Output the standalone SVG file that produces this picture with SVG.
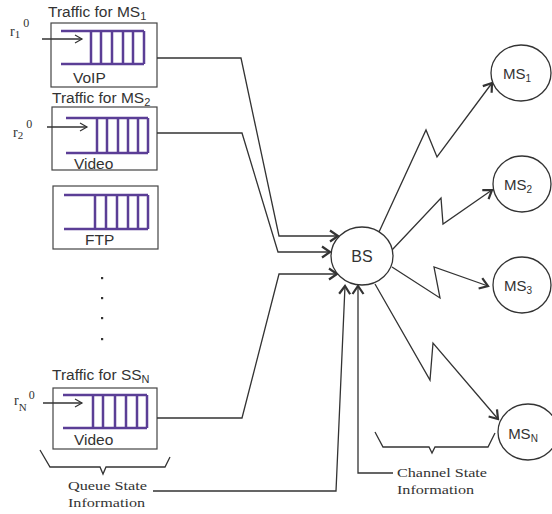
<svg xmlns="http://www.w3.org/2000/svg" width="552" height="514" viewBox="0 0 552 514">
<defs>
<style>
.box{fill:none;stroke:#444;stroke-width:1.2}
.q{fill:none;stroke:#5b3e96;stroke-width:2.5}
.ln{fill:none;stroke:#333;stroke-width:1.3}
.ar{fill:none;stroke:#333;stroke-width:1.3}
.node{fill:#fff;stroke:#333;stroke-width:1.3}
.sans{font-family:"Liberation Sans",Arial,sans-serif;fill:#333}
.serif{font-family:"Liberation Serif","Times New Roman",serif;fill:#333}
</style>
<marker id="chev" viewBox="-10 -7 12 14" markerWidth="12" markerHeight="14" refX="0" refY="0" orient="auto" markerUnits="userSpaceOnUse">
<path d="M-8,-5.5 L0,0 L-8,5.5" fill="none" stroke="#333" stroke-width="2.2"/>
</marker>
<marker id="thin" viewBox="-10 -6 12 12" markerWidth="12" markerHeight="12" refX="0" refY="0" orient="auto" markerUnits="userSpaceOnUse">
<path d="M-7,-4 L0,0 L-7,4" fill="none" stroke="#333" stroke-width="1.2"/>
</marker>
</defs>

<g id="queue1">
<text class="sans" x="48" y="17" font-size="15.5">Traffic for MS<tspan font-size="11" dy="3">1</tspan></text>
<rect class="box" x="51" y="23" width="106" height="64"/>
<path class="q" d="M61,31 H144 M61,64 H144 M91,31 V64 M101,31 V64 M112,31 V64 M123,31 V64 M133,31 V64 M144,31 V64"/>
<text class="sans" x="73" y="83" font-size="15.5">VoIP</text>
<text class="serif" x="10" y="36" font-size="14">r<tspan font-size="11" dy="2">1</tspan><tspan font-size="12" dx="3" dy="-11">0</tspan></text>
<path class="ar" d="M42,39 H82" marker-end="url(#thin)"/>
</g>

<g id="queue2">
<text class="sans" x="52" y="103" font-size="15.5">Traffic for MS<tspan font-size="11" dy="3">2</tspan></text>
<rect class="box" x="52" y="107" width="105" height="63"/>
<path class="q" d="M66,118 H148 M66,153 H148 M97,118 V153 M107,118 V153 M118,118 V153 M128,118 V153 M138,118 V153 M148,118 V153"/>
<text class="sans" x="74" y="169" font-size="15.5">Video</text>
<text class="serif" x="13" y="137" font-size="14">r<tspan font-size="11" dy="2">2</tspan><tspan font-size="12" dx="3" dy="-11">0</tspan></text>
<path class="ar" d="M47,127 H87" marker-end="url(#thin)"/>
</g>

<g id="queue3">
<rect class="box" x="53" y="186" width="105" height="63"/>
<path class="q" d="M64,195 H148 M64,229 H148 M95,195 V229 M106,195 V229 M117,195 V229 M128,195 V229 M138,195 V229 M148,195 V229"/>
<text class="sans" x="85" y="245" font-size="15.5">FTP</text>
</g>

<g id="dots" fill="#333">
<rect x="101" y="277" width="2.2" height="2.2"/>
<rect x="101" y="297" width="2.2" height="2.2"/>
<rect x="101" y="317" width="2.2" height="2.2"/>
<rect x="101" y="338" width="2.2" height="2.2"/>
</g>

<g id="queueN">
<text class="sans" x="52" y="380" font-size="15.5">Traffic for SS<tspan font-size="11" dy="3">N</tspan></text>
<rect class="box" x="53" y="388" width="104" height="61"/>
<path class="q" d="M63,395 H147 M63,428 H147 M93,395 V428 M103,395 V428 M115,395 V428 M126,395 V428 M137,395 V428 M147,395 V428"/>
<text class="sans" x="74" y="445" font-size="15.5">Video</text>
<text class="serif" x="14" y="405" font-size="14">r<tspan font-size="11" dy="6">N</tspan><tspan font-size="12" dx="2" dy="-12">0</tspan></text>
<path class="ar" d="M43,403 H82" marker-end="url(#thin)"/>
</g>

<g id="queue-brace">
<path class="ln" d="M40,450 L50,467 H100 L103,474 L106,467 H165 L170,457"/>
<text class="serif" x="68" y="490" font-size="13.5" textLength="79" lengthAdjust="spacingAndGlyphs">Queue State</text>
<text class="serif" x="68" y="507" font-size="13.5" textLength="77" lengthAdjust="spacingAndGlyphs">Information</text>
</g>

<g id="connectors">
<path class="ln" d="M157,58 H241 L279,236 H338" marker-end="url(#chev)"/>
<path class="ln" d="M157,133 H242 L278,252 H330" marker-end="url(#chev)"/>
<path class="ln" d="M157,418 H242 L279,274 H337" marker-end="url(#chev)"/>
<path class="ln" d="M153,491 H336 L345,286" marker-end="url(#chev)"/>
<path class="ln" d="M393,473 H358 V286" marker-end="url(#chev)"/>
<path class="ln" d="M379,232 L426,130 L437,157 L492,83" marker-end="url(#chev)"/>
<path class="ln" d="M392,250 L441,198 L443,224 L492,190" marker-end="url(#chev)"/>
<path class="ln" d="M392,267 L440,298 L434,267 L488,286" marker-end="url(#chev)"/>
<path class="ln" d="M375,284 L430,380 L433,343 L498,419" marker-end="url(#chev)"/>
</g>

<g id="BS">
<ellipse class="node" cx="362" cy="256" rx="31" ry="29"/>
<text class="sans" x="362" y="262" font-size="16" text-anchor="middle">BS</text>
</g>

<g id="MS1">
<ellipse class="node" cx="521" cy="73" rx="30" ry="28"/>
<text class="sans" x="517" y="79" font-size="15" text-anchor="middle">MS<tspan font-size="10" dy="3">1</tspan></text>
</g>
<g id="MS2">
<ellipse class="node" cx="522" cy="184" rx="29" ry="28"/>
<text class="sans" x="518" y="190" font-size="15" text-anchor="middle">MS<tspan font-size="10" dy="3">2</tspan></text>
</g>
<g id="MS3">
<ellipse class="node" cx="522" cy="285" rx="29" ry="28"/>
<text class="sans" x="518" y="291" font-size="15" text-anchor="middle">MS<tspan font-size="10" dy="3">3</tspan></text>
</g>
<g id="MSN">
<ellipse class="node" cx="528" cy="432" rx="30" ry="28"/>
<text class="sans" x="523" y="439" font-size="15" text-anchor="middle">MS<tspan font-size="10" dy="3">N</tspan></text>
</g>

<g id="channel-brace">
<path class="ln" d="M375,432 L383,447 H429 L432,453 L435,447 H488 L495,433"/>
<text class="serif" x="397" y="477" font-size="13.5" textLength="90" lengthAdjust="spacingAndGlyphs">Channel State</text>
<text class="serif" x="397" y="494" font-size="13.5" textLength="77" lengthAdjust="spacingAndGlyphs">Information</text>
</g>
</svg>
